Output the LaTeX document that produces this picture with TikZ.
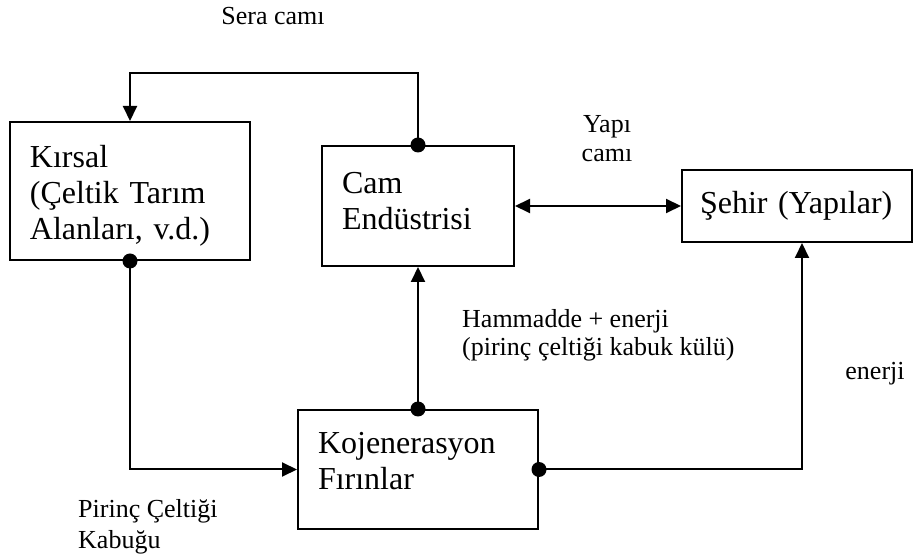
\documentclass[tikz,border=0pt]{standalone}
\usepackage{fontspec}
\setmainfont{Liberation Serif}
\usetikzlibrary{arrows.meta, positioning}

\begin{document}
\begin{tikzpicture}[
    x=1pt, y=1pt,
    >={Triangle[length=15pt, width=14pt]},
    box/.style={draw, line width=2pt, rectangle, inner xsep=20pt, inner ysep=0pt,
                align=left, font=\fontsize{32}{36}\selectfont},
    arr/.style={->, line width=2pt},
    lbl/.style={inner sep=0pt, font=\fontsize{26}{28}\selectfont},
]
\useasboundingbox (0,0) rectangle (914,560);
% === Boxes ===
\node[box, text width=200pt, minimum height=138pt, text depth=69pt] (kirsal) at (130,369) {Kırsal\\(Çeltik Tarım\\Alanları, v.d.)};
\node[box, text width=152pt, minimum height=120pt, text depth=46pt] (cam) at (418,354) {Cam\\Endüstrisi};
\node[box, text width=194pt, inner xsep=18pt, minimum height=72pt] (sehir) at (797,354) {Şehir (Yapılar)};
\node[box, text width=200pt, minimum height=119pt, text depth=54pt] (koj) at (418,90.5) {Kojenerasyon\\Fırınlar};
% === Flows ===
\draw[arr] (cam.north) -- ++(0,72) -| (kirsal.north);
\draw[<->, line width=2pt] (cam.east) -- (sehir.west);
\draw[arr] (koj.north) -- (cam.south);
\draw[arr] (kirsal.south) |- (koj.west);
\draw[arr] (koj.east) -| ([xshift=5pt]sehir.south);
% dots where a flow leaves a box
\foreach \p in {cam.north, kirsal.south, koj.north, koj.east}
    \fill (\p) circle (7.5);
% === Labels ===
\node[lbl, anchor=north] (sera) at (273,553) {Sera camı};
\node[lbl, anchor=north, align=center, font=\fontsize{26}{29}\selectfont] (yapi) at (607,445) {Yapı\\camı};
\node[lbl, anchor=north west, align=left] (hammadde) at (462,251) {Hammadde + enerji\\(pirinç çeltiği kabuk külü)};
\node[lbl, anchor=north] (enerji) at (875,198) {enerji};
\node[lbl, anchor=north west, align=left, font=\fontsize{26}{31}\selectfont] (kabuk) at (78,61) {Pirinç Çeltiği\\Kabuğu};
\end{tikzpicture}
\end{document}
